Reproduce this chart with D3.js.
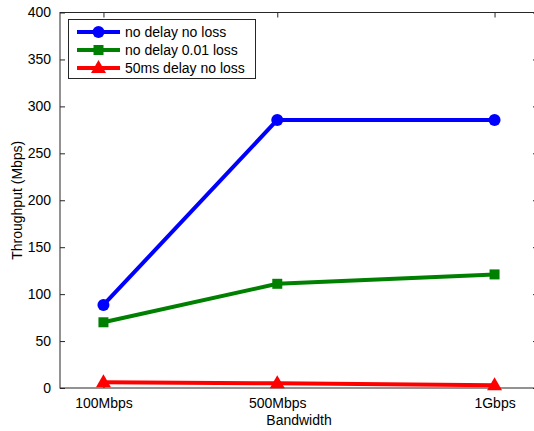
<!DOCTYPE html>
<html>
<head>
<meta charset="utf-8">
<script src="https://cdn.jsdelivr.net/npm/d3@7"></script>
<style>
  html, body { margin: 0; padding: 0; background: #fff; }
  svg { display: block; font-family: "Liberation Sans", Arial, Helvetica, sans-serif; }
</style>
</head>
<body>
<svg id="chart" width="534" height="431"></svg>
<script>
// Bandwidth settings (Mbps) and their labels
const bandwidth = [100, 500, 1000];
const bandwidthLabels = ["100Mbps", "500Mbps", "1Gbps"];

// Measured throughput (Mbps) per scenario
const noDelayNoLoss = [88.5, 285.5, 285.5];
const noDelayLoss = [70, 111, 121];
const delayNoLoss = [6, 5, 3];

const seriesNames = ["no delay no loss", "no delay 0.01 loss", "50ms delay no loss"];
const yTicks = [0, 50, 100, 150, 200, 250, 300, 350, 400];

const series = [
  { name: seriesNames[0], values: noDelayNoLoss, color: "#0000ff", marker: "circle" },
  { name: seriesNames[1], values: noDelayLoss, color: "#008000", marker: "square" },
  { name: seriesNames[2], values: delayNoLoss, color: "#ff0000", marker: "triangle" }
];

const svg = d3.select("#chart");
const plotLeft = 60, plotRight = 538, plotTop = 12.5, plotBottom = 388;

const x = d3.scaleLinear().domain([0, 1100]).range([plotLeft, plotRight]);
const y = d3.scaleLinear().domain([0, 400]).range([plotBottom, plotTop]);

const axisColor = "#262626";

// Frame
svg.append("rect")
  .attr("x", plotLeft).attr("y", plotTop)
  .attr("width", plotRight - plotLeft).attr("height", plotBottom - plotTop)
  .attr("fill", "none").attr("stroke", axisColor).attr("stroke-width", 1);

// Left y axis (ticks inward)
const yAxisL = svg.append("g").attr("transform", `translate(${plotLeft},0)`)
  .call(d3.axisLeft(y).tickValues(yTicks).tickSize(-5).tickPadding(9));
// Right y axis ticks only
const yAxisR = svg.append("g").attr("transform", `translate(${plotRight},0)`)
  .call(d3.axisRight(y).tickValues(yTicks).tickSize(-5).tickFormat(""));
// Bottom x axis
const xAxisB = svg.append("g").attr("transform", `translate(0,${plotBottom})`)
  .call(d3.axisBottom(x).tickValues(bandwidth).tickSize(-5).tickPadding(10)
    .tickFormat((d, i) => bandwidthLabels[i]));
// Top x axis ticks only
const xAxisT = svg.append("g").attr("transform", `translate(0,${plotTop})`)
  .call(d3.axisTop(x).tickValues(bandwidth).tickSize(-5).tickFormat(""));

[yAxisL, yAxisR, xAxisB, xAxisT].forEach(g => {
  g.select(".domain").remove();
  g.selectAll(".tick line").attr("stroke", axisColor);
  g.selectAll("text").attr("fill", "#000").attr("font-size", 14)
    .attr("font-family", "'Liberation Sans', Arial, sans-serif");
});

// Axis titles
svg.append("text")
  .attr("x", (plotLeft + plotRight) / 2).attr("y", 425)
  .attr("text-anchor", "middle").attr("font-size", 14).text("Bandwidth");
svg.append("text")
  .attr("transform", `translate(22,${(plotTop + plotBottom) / 2}) rotate(-90)`)
  .attr("text-anchor", "middle").attr("font-size", 14).text("Throughput (Mbps)");

// Marker drawing helper
function drawMarker(g, type, cx, cy, color) {
  if (type === "circle") {
    g.append("circle").attr("cx", cx).attr("cy", cy).attr("r", 6).attr("fill", color);
  } else if (type === "square") {
    g.append("rect").attr("x", cx - 5).attr("y", cy - 5).attr("width", 10).attr("height", 10).attr("fill", color);
  } else {
    g.append("path")
      .attr("d", `M${cx},${cy - 8} L${cx + 7.5},${cy + 5} L${cx - 7.5},${cy + 5} Z`)
      .attr("fill", color);
  }
}

const line = d3.line().x((d, i) => x(bandwidth[i])).y(d => y(d));

series.forEach(s => {
  const g = svg.append("g");
  g.append("path").datum(s.values)
    .attr("d", line).attr("fill", "none")
    .attr("stroke", s.color).attr("stroke-width", 4)
    .attr("stroke-linejoin", "round");
  s.values.forEach((v, i) => drawMarker(g, s.marker, x(bandwidth[i]), y(v), s.color));
});

// Legend
const legend = svg.append("g");
legend.append("rect")
  .attr("x", 68.5).attr("y", 19.5).attr("width", 187).attr("height", 59)
  .attr("fill", "#fff").attr("stroke", axisColor).attr("stroke-width", 1);
series.forEach((s, i) => {
  const ly = 32 + i * 18;
  legend.append("line")
    .attr("x1", 77).attr("x2", 120).attr("y1", ly).attr("y2", ly)
    .attr("stroke", s.color).attr("stroke-width", 4);
  drawMarker(legend, s.marker, 98.5, ly, s.color);
  legend.append("text")
    .attr("x", 125).attr("y", ly).attr("dy", "0.35em")
    .attr("font-size", 14).text(s.name);
});
</script>
</body>
</html>
